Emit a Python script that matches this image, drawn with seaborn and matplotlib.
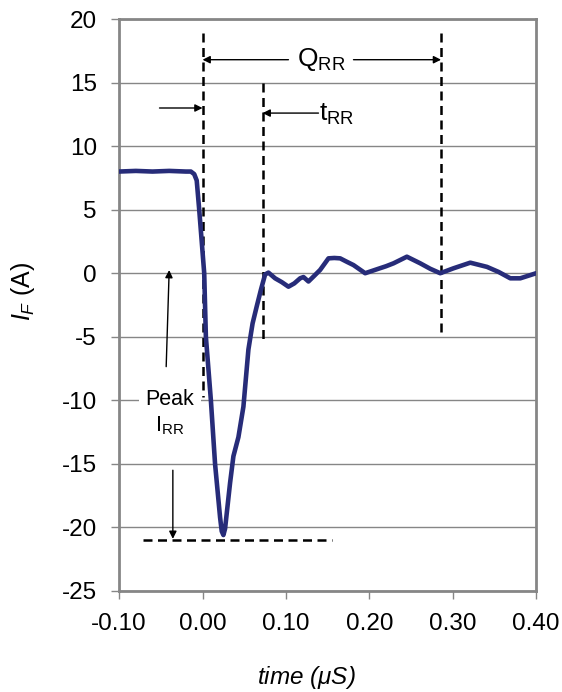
import numpy as np
import matplotlib
matplotlib.use("Agg")
import matplotlib.pyplot as plt
import pandas as pd
import seaborn as sns

# trace (time in us, current in A)
time_us = [-0.100, -0.080, -0.060, -0.040, -0.020, -0.014, -0.010, -0.007, -0.004, 0.002,
           0.004, 0.010, 0.015, 0.021, 0.023, 0.025, 0.027, 0.030, 0.033, 0.037,
           0.043, 0.049, 0.055, 0.060, 0.065, 0.070, 0.075, 0.079, 0.087, 0.095,
           0.103, 0.110, 0.117, 0.121, 0.127, 0.134, 0.141, 0.151, 0.158, 0.165,
           0.173, 0.181, 0.195, 0.209, 0.220, 0.229, 0.245, 0.261, 0.273, 0.285,
           0.301, 0.321, 0.341, 0.355, 0.369, 0.381, 0.400]
current_a = [8.0, 8.05, 8.0, 8.05, 8.0, 8.0, 7.8, 7.3, 5.0, 0.0,
             -5.0, -10.0, -15.0, -19.2, -20.3, -20.6, -20.1, -18.3, -16.5, -14.4,
             -12.9, -10.5, -6.0, -3.95, -2.6, -1.3, -0.1, 0.05, -0.4, -0.7,
             -1.06, -0.8, -0.4, -0.3, -0.65, -0.2, 0.26, 1.17, 1.2, 1.17,
             0.9, 0.64, 0.0, 0.31, 0.55, 0.78, 1.3, 0.78, 0.35, 0.0,
             0.39, 0.83, 0.5, 0.1, -0.4, -0.4, 0.0]

xticks = [-0.10, 0.00, 0.10, 0.20, 0.30, 0.40]
xticklabels = ["-0.10", "0.00", "0.10", "0.20", "0.30", "0.40"]
yticks = [20, 15, 10, 5, 0, -5, -10, -15, -20, -25]

# annotation geometry
t_start = 0.0
t_rr_end = 0.072
q_rr_end = 0.286
peak_level = -21.0

sns.set_theme(style="white")
plt.rcParams['font.family'] = ['Liberation Sans', 'DejaVu Sans']
plt.rcParams['mathtext.fontset'] = 'custom'
plt.rcParams['mathtext.rm'] = 'Liberation Sans'
plt.rcParams['mathtext.it'] = 'Liberation Sans:italic'
plt.rcParams['axes.unicode_minus'] = False
plt.rcParams['text.color'] = 'black'
plt.rcParams['axes.labelcolor'] = 'black'

df = pd.DataFrame({"time": time_us, "IF": current_a})

fig = plt.figure(figsize=(5.62, 6.92), dpi=100)
ax = fig.add_axes([0.212, 0.146, 0.742, 0.8265])

for y in yticks:
    ax.axhline(y, color="#868686", lw=1.0, zorder=0)

sns.lineplot(data=df, x="time", y="IF", ax=ax, color="#272C79", lw=3.3, zorder=3)

dash = dict(color="black", lw=1.8, linestyle=(0, (3.6, 2.2)), zorder=2)
ax.plot([t_start, t_start], [18.9, -9.7], **dash)
ax.plot([t_rr_end, t_rr_end], [15.0, -5.4], **dash)
ax.plot([q_rr_end, q_rr_end], [18.9, -4.6], **dash)
ax.plot([-0.071, 0.155], [peak_level, peak_level], **dash)

arr = dict(arrowstyle="-|>", color="black", lw=1.0, mutation_scale=11, shrinkA=0, shrinkB=0)
ax.annotate("", xy=(t_start, 16.8), xytext=(0.103, 16.8), arrowprops=arr)
ax.annotate("", xy=(q_rr_end, 16.8), xytext=(0.181, 16.8), arrowprops=arr)
ax.annotate("", xy=(t_start, 13.0), xytext=(-0.0516, 13.0), arrowprops=arr)
ax.annotate("", xy=(t_rr_end, 12.6), xytext=(0.139, 12.6), arrowprops=arr)
ax.annotate("", xy=(-0.040, 0.25), xytext=(-0.0436, -7.35), arrowprops=arr)
ax.annotate("", xy=(-0.0356, -20.9), xytext=(-0.0356, -15.5), arrowprops=arr)

ax.text(0.142, 16.8, r"Q$_\mathrm{RR}$", fontsize=19, ha="center", va="center")
ax.text(0.140, 12.5, r"t$_\mathrm{RR}$", fontsize=19, ha="left", va="center")
ax.text(-0.039, -11.0, "Peak\n" + r"I$_\mathrm{RR}$", fontsize=15.5, ha="center", va="center",
        linespacing=1.25, bbox=dict(facecolor="white", edgecolor="none", pad=5), zorder=4)

ax.set_xlim(-0.10, 0.40)
ax.set_ylim(-25, 20)
ax.set_xticks(xticks)
ax.set_xticklabels(xticklabels)
ax.set_yticks(yticks)
ax.tick_params(axis="both", labelsize=17.5, length=6, width=1, color="#868686",
               labelcolor="black", direction="out", bottom=True, left=True, pad=10)
for s in ax.spines.values():
    s.set_color("#868686")
    s.set_linewidth(2)

ax.set_xlabel(r"time ($\mu$S)", fontsize=17.5, style="italic")
ax.set_ylabel(r"$I_F$ (A)", fontsize=18)
ax.xaxis.set_label_coords(0.448, -0.127)
ax.yaxis.set_label_coords(-0.197, 0.524)

fig.savefig("out.png", dpi=100)
